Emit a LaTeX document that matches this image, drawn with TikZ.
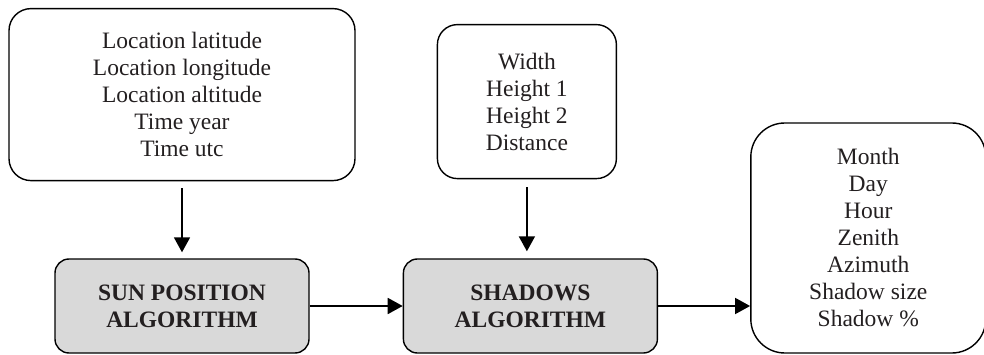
\documentclass[tikz,border=0pt]{standalone}
\usepackage{fontspec}
\setmainfont{Liberation Serif}
\usepackage{tikz}
\usetikzlibrary{positioning,arrows.meta}
\definecolor{algfill}{HTML}{D9D9D9}
\definecolor{txt}{HTML}{231F20}

\begin{document}
\begin{tikzpicture}[
    x=1pt, y=-1pt,
    box/.style={draw, line width=1.4pt, rounded corners=#1, align=center, text=txt, inner sep=0pt,
      font=\fontsize{23.5}{27}\selectfont},
    box/.default=20pt,
    algbox/.style={box=14pt, fill=algfill, minimum width=254pt, minimum height=94pt,
      font=\fontsize{23.5}{27}\selectfont\bfseries},
    arr/.style={-{Triangle[length=15pt, width=16pt]}, line width=1.8pt}
  ]
    \useasboundingbox (0,0) rectangle (984,355);
    \node[algbox] (sun) at (182,306) {SUN POSITION\\ALGORITHM};
    \node[algbox, right=93pt of sun] (shad) {SHADOWS\\ALGORITHM};
    \node[box=22pt, minimum width=346pt, minimum height=172pt, above=77pt of sun] (loc)
      {Location latitude\\Location longitude\\Location altitude\\Time year\\Time utc};
    \node[box=20pt, minimum width=179pt, minimum height=154pt, above=79pt of shad, xshift=-3.5pt] (dims)
      {Width\\Height 1\\Height 2\\Distance};
    \node[box=34pt, minimum width=235pt, minimum height=230pt, right=92pt of shad, yshift=68pt] (out)
      {Month\\Day\\Hour\\Zenith\\Azimuth\\Shadow size\\Shadow \%};
    \draw[arr, shorten <=7pt, shorten >=6pt] (loc) -- (sun);
    \draw[arr, shorten <=8pt, shorten >=7pt] (dims.south) -- (dims.south |- shad.north);
    \draw[arr] (sun) -- (shad);
    \draw[arr] (shad.east) -- (shad.east -| out.west);
  \end{tikzpicture}
\end{document}
